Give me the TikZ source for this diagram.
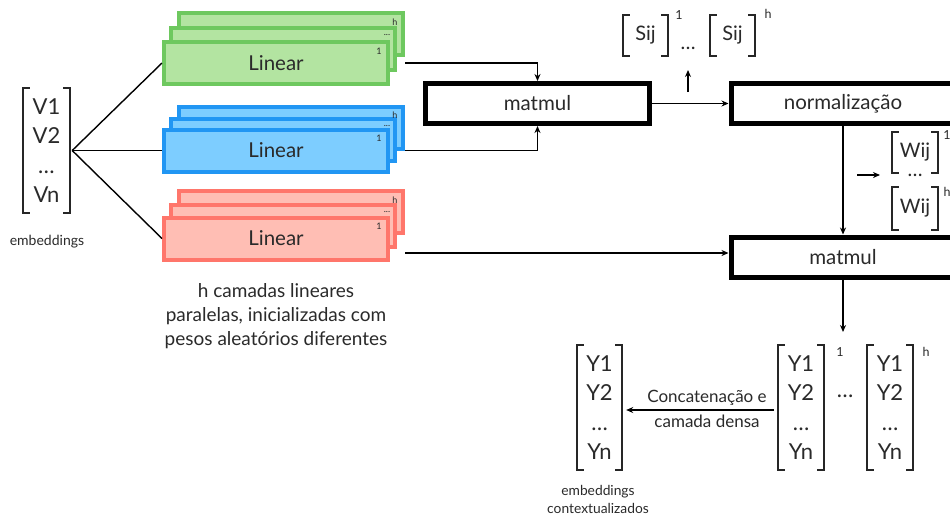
\documentclass[tikz,border=0pt]{standalone}
\usepackage{fontspec}
\setmainfont{Lato}
\usetikzlibrary{arrows.meta,calc}
\definecolor{gB}{HTML}{6EC85F}
\definecolor{gF}{HTML}{B3E4A1}
\definecolor{bB}{HTML}{2196F3}
\definecolor{bF}{HTML}{7DCDFF}
\definecolor{rB}{HTML}{FF766B}
\definecolor{rF}{HTML}{FFBEB4}
\definecolor{txt}{HTML}{2A2A2A}
\newcommand\mybrk[1]{%
 \draw[brk] ([xshift=7pt]#1.north west) -- (#1.north west) -- (#1.south west) -- ([xshift=7pt]#1.south west);
 \draw[brk] ([xshift=-7pt]#1.north east) -- (#1.north east) -- (#1.south east) -- ([xshift=-7pt]#1.south east);}
\tikzset{
 lin/.style 2 args={draw=#1, fill=#2, line width=4pt, minimum width=224pt, minimum height=42pt, inner sep=0pt, text=txt, font=\fontsize{20.5}{24}\selectfont},
 stk/.style={inner sep=0pt, text=txt, font=\fontsize{9}{10}\selectfont},
 opbox/.style={draw=black, line width=5pt, fill=white, minimum width=224pt, minimum height=40pt, inner sep=0pt, text=txt, font=\fontsize{20.5}{24}\selectfont},
 mat/.style={inner sep=0pt, align=center, text=txt, font=\fontsize{22}{29.5}\selectfont},
 smat/.style={inner sep=0pt, align=center, text=txt, font=\fontsize{20}{24}\selectfont},
 brk/.style={line width=2pt, black!85},
 sup/.style={inner sep=0pt, text=txt, font=\fontsize{12.5}{13}\selectfont},
 conn/.style={line width=1.4pt, black},
 arr/.style={conn, -{Stealth[length=7pt,width=6pt]}},
 capt/.style={inner sep=0pt, align=center, text=txt},
}
\begin{document}
\begin{tikzpicture}[x=1pt,y=-1pt]
\useasboundingbox (0,0) rectangle (950,515);
\clip (0,0) rectangle (950,515);
\fill[white] (0,0) rectangle (950,515);

% input matrix
\node[mat, minimum width=47pt, minimum height=125pt] (V) at (46.5,150.5) {V1\\V2\\…\\Vn};
\mybrk{V}
\node[capt, font=\fontsize{14}{16}\selectfont] (emb) at (47,242) {embeddings};
\coordinate (vr) at ([xshift=2pt]V.east);

% green stack
\node[lin={gB}{gF}] (g3) at (291,34) {};
\node[lin={gB}{gF}] (g2) at (283,49) {};
\node[lin={gB}{gF}] (g1) at (276,63) {Linear};
\node[stk] (g3l) at ([xshift=-10pt,yshift=-11pt]g3.north east) {h};
\node[stk] (g2l) at ([xshift=-10pt,yshift=-9pt]g2.north east) {...};
\node[stk] (g1l) at ([xshift=-11pt,yshift=-11pt]g1.north east) {1};

% blue stack
\node[lin={bB}{bF}] (b3) at (291,127.5) {};
\node[lin={bB}{bF}] (b2) at (283,139.5) {};
\node[lin={bB}{bF}] (b1) at (276,150.5) {Linear};
\node[stk] (b3l) at ([xshift=-10pt,yshift=-11pt]b3.north east) {h};
\node[stk] (b2l) at ([xshift=-10pt,yshift=-9pt]b2.north east) {...};
\node[stk] (b1l) at ([xshift=-11pt,yshift=-11pt]b1.north east) {1};

% red stack
\node[lin={rB}{rF}] (r3) at (291,212) {};
\node[lin={rB}{rF}] (r2) at (283,226) {};
\node[lin={rB}{rF}] (r1) at (276,238.5) {Linear};
\node[stk] (r3l) at ([xshift=-10pt,yshift=-11pt]r3.north east) {h};
\node[stk] (r2l) at ([xshift=-10pt,yshift=-9pt]r2.north east) {...};
\node[stk] (r1l) at ([xshift=-11pt,yshift=-11pt]r1.north east) {1};

\node[capt, font=\fontsize{19}{24}\selectfont] (desc) at (276,316) {h camadas lineares\\paralelas, inicializadas com\\pesos aleatórios diferentes};

% fan-out lines
\draw[conn] (vr) -- (g1.west);
\draw[conn] (vr) -- (b1.west);
\draw[conn] (vr) -- (r1.west);

% operation boxes
\node[opbox] (m1) at (537.5,103.5) {matmul};
\node[opbox] (nm) at (843,103.5) {normalização};
\node[opbox] (m2) at (843,257) {matmul};

\draw[arr] (g3.east |- g1.east) -| (m1.north);
\draw[arr] (b3.east |- b1.east) -| (m1.south);
\draw[arr] ([yshift=4pt]m2.west -| r3.east) -- ([yshift=4pt]m2.west);
\draw[arr] (m1.east) -- (nm.west);
\draw[arr] (nm.south) -- (m2.north);

% Sij
\node[smat, minimum width=45pt, minimum height=41pt] (s1) at (645.5,35.5) {Sij};
\mybrk{s1}
\node[sup] (s1s) at (679,15) {1};
\node[smat] (sdots) at (688,48) {…};
\node[smat, minimum width=45pt, minimum height=41pt] (s2) at (732.5,35.5) {Sij};
\mybrk{s2}
\node[sup] (s2s) at (768,14) {h};
\coordinate (ua1) at (688,92);
\coordinate (ua2) at (688,70);
\draw[arr] (ua1) -- (ua2);

% Wij
\coordinate (ra1) at (857,175);
\coordinate (ra2) at (880,175);
\draw[arr] (ra1) -- (ra2);
\node[smat, minimum width=46pt, minimum height=41pt] (w1) at (915,152.5) {Wij};
\mybrk{w1}
\node[sup] (w1s) at (947,135) {1};
\node[smat] (wdots) at (915,175) {…};
\node[smat, minimum width=46pt, minimum height=43pt] (w2) at (915,208.5) {Wij};
\mybrk{w2}
\node[sup] (w2s) at (947,192) {h};

% output
\coordinate (mo) at (843,332);
\draw[arr] (m2.south) -- (mo);

\node[mat, minimum width=46pt, minimum height=125pt] (ya) at (801,407.5) {Y1\\Y2\\…\\Yn};
\mybrk{ya}
\node[sup] (yas) at (840,352) {1};
\node[mat] (ydots) at (845,396) {…};
\node[mat, minimum width=46pt, minimum height=125pt] (yb) at (890,407.5) {Y1\\Y2\\…\\Yn};
\mybrk{yb}
\node[sup] (ybs) at (926,352) {h};

\node[mat, minimum width=45pt, minimum height=125pt] (yo) at (599.5,407.5) {Y1\\Y2\\…\\Yn};
\mybrk{yo}
\draw[arr] ([xshift=-4pt,yshift=-2.5pt]ya.west) -- ([xshift=4pt,yshift=-2.5pt]yo.east);
\node[capt, font=\fontsize{17}{25}\selectfont] (cc) at (707,409) {Concatenação e\\camada densa};
\node[capt, font=\fontsize{13.8}{18}\selectfont] (embc) at (598,499) {embeddings\\contextualizados};
\end{tikzpicture}
\end{document}
